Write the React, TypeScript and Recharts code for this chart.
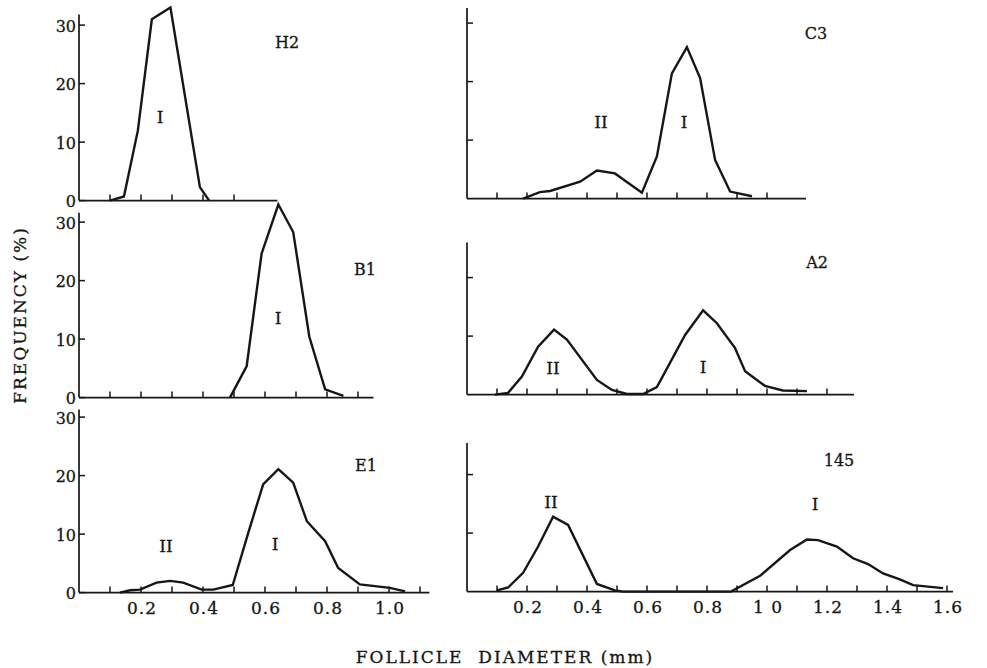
import React from 'react';
import { LineChart, Line, XAxis, YAxis, ReferenceLine } from 'recharts';

const INK = '#161616';
const FONT = '"DejaVu Serif", "Liberation Serif", serif';

// follicle diameter (mm) -> frequency (%)
const H2_X = [0.1, 0.145, 0.19, 0.235, 0.295, 0.39, 0.42];
const H2_Y = [0, 0.7, 12, 31, 33, 2.3, 0];

const B1_X = [0.487, 0.541, 0.589, 0.643, 0.691, 0.743, 0.794, 0.853];
const B1_Y = [0, 5.4, 24.6, 33, 28.3, 10.4, 1.4, 0.3];

const E1_X = [0.132, 0.165, 0.197, 0.25, 0.294, 0.336, 0.396, 0.433, 0.496, 0.546, 0.594, 0.643, 0.691, 0.735, 0.794, 0.836, 0.906, 1.003, 1.052];
const E1_Y = [0, 0.4, 0.5, 1.7, 2.0, 1.7, 0.5, 0.5, 1.3, 10.2, 18.5, 21.1, 18.8, 12.2, 8.8, 4.2, 1.4, 0.8, 0.2];

const C3_X = [0.187, 0.243, 0.277, 0.377, 0.433, 0.493, 0.583, 0.633, 0.683, 0.733, 0.777, 0.827, 0.877, 0.95];
const C3_Y = [0, 1.1, 1.3, 2.9, 4.8, 4.3, 1.0, 7.2, 21.4, 25.9, 20.6, 6.6, 1.2, 0.4];

const A2_X = [0.093, 0.137, 0.183, 0.237, 0.29, 0.333, 0.433, 0.483, 0.533, 0.587, 0.633, 0.727, 0.787, 0.833, 0.893, 0.927, 0.993, 1.053, 1.133];
const A2_Y = [0, 0.3, 3.1, 8.2, 11.1, 9.4, 2.5, 0.8, 0.1, 0.1, 1.3, 10.2, 14.4, 12.2, 8.0, 4.0, 1.5, 0.7, 0.6];

const F145_X = [0.1, 0.137, 0.187, 0.237, 0.287, 0.337, 0.433, 0.493, 0.52, 0.88, 0.977, 1.077, 1.133, 1.17, 1.233, 1.287, 1.337, 1.387, 1.443, 1.487, 1.587];
const F145_Y = [0.2, 0.7, 3.2, 7.7, 12.8, 11.4, 1.3, 0.2, 0, 0, 2.7, 7.1, 8.9, 8.8, 7.7, 5.7, 4.7, 3.1, 2.1, 1.1, 0.6];

// ticks
const X_TICKS_H2 = [0.1, 0.2, 0.3, 0.4, 0.5];
const X_TICKS_B1 = [0.1, 0.2, 0.3, 0.4, 0.5, 0.6, 0.7, 0.8, 0.9];
const X_TICKS_E1 = [0.1, 0.2, 0.3, 0.4, 0.5, 0.6, 0.7, 0.8, 0.9, 1.0, 1.1];
const X_TICKS_C3 = [0.1, 0.2, 0.3, 0.4, 0.5, 0.6, 0.7, 0.8, 0.9, 1.0];
const X_TICKS_A2 = [0.1, 0.2, 0.3, 0.4, 0.5, 0.6, 0.7, 0.8, 0.9, 1.0, 1.1, 1.2];
const X_TICKS_145 = [0.1, 0.2, 0.3, 0.4, 0.5, 0.6, 0.7, 0.8, 0.9, 1.0, 1.1, 1.2, 1.3, 1.4, 1.5, 1.6];

const X_LABELS_LEFT_AT = [0.2, 0.4, 0.6, 0.8, 1.0];
const X_LABELS_LEFT = ['0.2', '0.4', '0.6', '0.8', '1.0'];
const X_LABELS_RIGHT_AT = [0.2, 0.4, 0.6, 0.8, 1.0, 1.2, 1.4, 1.6];
const X_LABELS_RIGHT = ['0.2', '0.4', '0.6', '0.8', '1 0', '1.2', '1.4', '1.6'];

const Y_TICKS_LEFT = [0, 10, 20, 30];
const Y_LABELS_LEFT = ['0', '10', '20', '30'];
const Y_TICKS_C3 = [10, 20, 30];
const Y_TICKS_SHORT = [10, 20];

const PX_PER_PCT = 5.85;
const Y_TOP = 36;
const ML = 70;
const MT = 6;
const MR = 12;
const MB = 34;
const YW = 40;
const XH = 30;

function findLabel(v: number, at?: number[], text?: string[]) {
  if (!at || !text) return null;
  const i = at.findIndex((a) => Math.abs(a - v) < 1e-6);
  return i >= 0 ? text[i] : null;
}

function XTick(props: any) {
  const { x, y, payload, labelAt, labelText } = props;
  const lab = findLabel(payload.value, labelAt, labelText);
  return (
    <g>
      <line x1={x} y1={y} x2={x} y2={y - 6} stroke={INK} strokeWidth={1.5} />
      {lab && (
        <text x={x + 1} y={y + 15} textAnchor="middle" dominantBaseline="central"
          fontFamily={FONT} fontSize={17} letterSpacing={1} fill={INK} stroke={INK} strokeWidth={0.3}>
          {lab}
        </text>
      )}
    </g>
  );
}

function YTick(props: any) {
  const { x, y, payload, labelAt, labelText } = props;
  const lab = findLabel(payload.value, labelAt, labelText);
  return (
    <g>
      <line x1={x} y1={y} x2={x + 6} y2={y} stroke={INK} strokeWidth={1.5} />
      {lab && (
        <text x={x - 3} y={y + 1} textAnchor="end" dominantBaseline="central"
          fontFamily={FONT} fontSize={16} fill={INK} stroke={INK} strokeWidth={0.3}>
          {lab}
        </text>
      )}
    </g>
  );
}

interface PanelProps {
  x0: number;
  y0: number;
  mmPx: number;
  xMax: number;
  xs: number[];
  ys: number[];
  xTicks: number[];
  xLabelAt?: number[];
  xLabelText?: string[];
  yTicks: number[];
  yLabelAt?: number[];
  yLabelText?: string[];
  yAxisTop: number;
}

function Panel(p: PanelProps) {
  const plotW = p.xMax * p.mmPx;
  const plotH = Y_TOP * PX_PER_PCT;
  const data = p.xs.map((d, i) => ({ d, f: p.ys[i] }));
  return (
    <div style={{ position: 'absolute', left: p.x0 - ML, top: p.y0 - plotH - MT }}>
      <LineChart
        width={ML + plotW + MR}
        height={MT + plotH + MB}
        data={data}
        margin={{ top: MT, right: MR, bottom: MB - XH, left: ML - YW }}
      >
        <XAxis
          type="number"
          dataKey="d"
          domain={[0, p.xMax]}
          ticks={p.xTicks}
          interval={0}
          height={XH}
          tickSize={0}
          tickMargin={0}
          tickLine={false}
          axisLine={{ stroke: INK, strokeWidth: 1.7 }}
          tick={(tp: any) => <XTick {...tp} labelAt={p.xLabelAt} labelText={p.xLabelText} />}
        />
        <YAxis
          type="number"
          domain={[0, Y_TOP]}
          ticks={p.yTicks}
          interval={0}
          width={YW}
          tickSize={0}
          tickMargin={0}
          tickLine={false}
          axisLine={false}
          tick={(tp: any) => <YTick {...tp} labelAt={p.yLabelAt} labelText={p.yLabelText} />}
        />
        <ReferenceLine
          segment={[{ x: 0, y: 0 }, { x: 0, y: p.yAxisTop }]}
          stroke={INK}
          strokeWidth={1.7}
        />
        <Line
          type="linear"
          dataKey="f"
          stroke={INK}
          strokeWidth={2.4}
          dot={false}
          isAnimationActive={false}
        />
      </LineChart>
    </div>
  );
}

const NOTE = {
  fontFamily: FONT,
  fill: INK,
  stroke: INK,
  strokeWidth: 0.3,
  textAnchor: 'middle' as const,
  dominantBaseline: 'central' as const,
};

export default function App() {
  return (
    <div style={{ position: 'absolute', left: 0, top: 0, width: 987, height: 668, background: '#fff' }}>
      <Panel x0={79} y0={201} mmPx={310} xMax={0.64} xs={H2_X} ys={H2_Y}
        xTicks={X_TICKS_H2} yTicks={Y_TICKS_LEFT} yLabelAt={Y_TICKS_LEFT} yLabelText={Y_LABELS_LEFT} yAxisTop={31.8} />
      <Panel x0={79} y0={398} mmPx={310} xMax={0.95} xs={B1_X} ys={B1_Y}
        xTicks={X_TICKS_B1} yTicks={Y_TICKS_LEFT} yLabelAt={Y_TICKS_LEFT} yLabelText={Y_LABELS_LEFT} yAxisTop={31.6} />
      <Panel x0={79} y0={593} mmPx={310} xMax={1.13} xs={E1_X} ys={E1_Y}
        xTicks={X_TICKS_E1} xLabelAt={X_LABELS_LEFT_AT} xLabelText={X_LABELS_LEFT}
        yTicks={Y_TICKS_LEFT} yLabelAt={Y_TICKS_LEFT} yLabelText={Y_LABELS_LEFT} yAxisTop={31.3} />
      <Panel x0={467} y0={199} mmPx={300} xMax={1.13} xs={C3_X} ys={C3_Y}
        xTicks={X_TICKS_C3} yTicks={Y_TICKS_C3} yAxisTop={32.6} />
      <Panel x0={467} y0={395} mmPx={300} xMax={1.29} xs={A2_X} ys={A2_Y}
        xTicks={X_TICKS_A2} yTicks={Y_TICKS_SHORT} yAxisTop={26} />
      <Panel x0={467} y0={592} mmPx={300} xMax={1.62} xs={F145_X} ys={F145_Y}
        xTicks={X_TICKS_145} xLabelAt={X_LABELS_RIGHT_AT} xLabelText={X_LABELS_RIGHT}
        yTicks={Y_TICKS_SHORT} yAxisTop={25.4} />

      <svg width={987} height={668} style={{ position: 'absolute', left: 0, top: 0, pointerEvents: 'none' }}>
        {/* panel names */}
        <text x={287} y={42} fontSize={16} {...NOTE}>H2</text>
        <text x={816} y={33} fontSize={16} {...NOTE}>C3</text>
        <text x={365} y={269} fontSize={16} {...NOTE}>B1</text>
        <text x={817} y={262} fontSize={16} {...NOTE}>A2</text>
        <text x={366} y={465} fontSize={16} {...NOTE}>E1</text>
        <text x={839} y={460} fontSize={16} {...NOTE}>145</text>
        {/* follicle classes */}
        <text x={160} y={117} fontSize={17} {...NOTE}>I</text>
        <text x={601} y={122} fontSize={17} {...NOTE}>II</text>
        <text x={684} y={122} fontSize={17} {...NOTE}>I</text>
        <text x={278} y={318} fontSize={17} {...NOTE}>I</text>
        <text x={553} y={368} fontSize={17} {...NOTE}>II</text>
        <text x={703} y={367} fontSize={17} {...NOTE}>I</text>
        <text x={166} y={546} fontSize={17} {...NOTE}>II</text>
        <text x={275} y={544} fontSize={17} {...NOTE}>I</text>
        <text x={551} y={502} fontSize={17} {...NOTE}>II</text>
        <text x={815} y={504} fontSize={17} {...NOTE}>I</text>
        {/* axis titles */}
        <text x={20} y={315} fontSize={17} letterSpacing={2} transform="rotate(-90 20 315)" {...NOTE}>
          FREQUENCY (%)
        </text>
        <text x={505} y={657} fontSize={17} letterSpacing={2} style={{ whiteSpace: 'pre' }} {...NOTE}>
          {'FOLLICLE  DIAMETER (mm)'}
        </text>
      </svg>
    </div>
  );
}
